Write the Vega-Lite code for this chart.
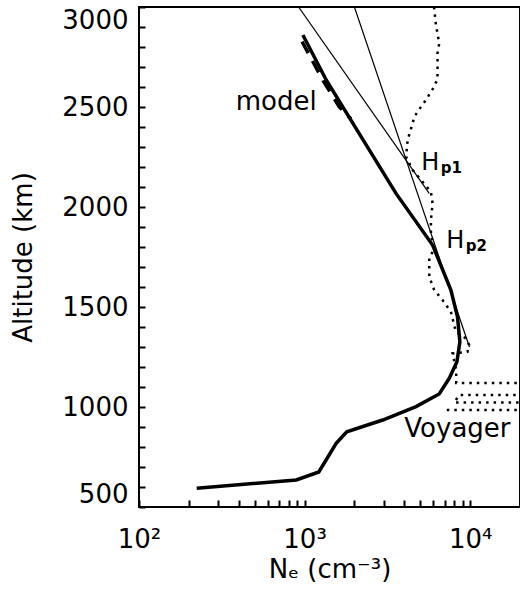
{
  "$schema": "https://vega.github.io/schema/vega-lite/v6.json",
  "width": 381,
  "height": 500,
  "autosize": "none",
  "padding": {"left": 139, "top": 7, "right": 0, "bottom": 88},
  "background": "white",
  "config": {
    "view": {"stroke": "black", "strokeWidth": 2}
  },
  "datasets": {
    "model": [
      {"ne": 223, "alt": 594}, {"ne": 891, "alt": 635}, {"ne": 1219, "alt": 675},
      {"ne": 1552, "alt": 818}, {"ne": 1798, "alt": 876}, {"ne": 2963, "alt": 935},
      {"ne": 4710, "alt": 1002}, {"ne": 6500, "alt": 1065}, {"ne": 7470, "alt": 1143},
      {"ne": 8320, "alt": 1226}, {"ne": 8670, "alt": 1326}, {"ne": 8385, "alt": 1451},
      {"ne": 7650, "alt": 1585}, {"ne": 5930, "alt": 1810}, {"ne": 3565, "alt": 2068},
      {"ne": 1701, "alt": 2501}, {"ne": 1351, "alt": 2635}, {"ne": 977, "alt": 2860}
    ],
    "model_alt": [
      {"ne": 966, "alt": 2827}, {"ne": 1287, "alt": 2635}, {"ne": 1620, "alt": 2501},
      {"ne": 1905, "alt": 2440}
    ],
    "fit1": [{"ne": 920, "alt": 3000}, {"ne": 5660, "alt": 2068}],
    "fit2": [{"ne": 2000, "alt": 3000}, {"ne": 9900, "alt": 1300}],
    "voyager": [
      {"ne": 6050, "alt": 3000}, {"ne": 6215, "alt": 2910}, {"ne": 6350, "alt": 2868},
      {"ne": 6506, "alt": 2818}, {"ne": 6350, "alt": 2768}, {"ne": 6350, "alt": 2685},
      {"ne": 6350, "alt": 2643}, {"ne": 6067, "alt": 2601}, {"ne": 5795, "alt": 2576},
      {"ne": 5408, "alt": 2535}, {"ne": 5047, "alt": 2501}, {"ne": 4600, "alt": 2451},
      {"ne": 4492, "alt": 2418}, {"ne": 4192, "alt": 2335}, {"ne": 4100, "alt": 2251},
      {"ne": 4492, "alt": 2185}, {"ne": 5160, "alt": 2126}, {"ne": 5795, "alt": 2076},
      {"ne": 5930, "alt": 2018}, {"ne": 5795, "alt": 1935}, {"ne": 5795, "alt": 1868},
      {"ne": 6067, "alt": 1785}, {"ne": 5663, "alt": 1751}, {"ne": 5663, "alt": 1651},
      {"ne": 6067, "alt": 1585}, {"ne": 6810, "alt": 1535}, {"ne": 7650, "alt": 1476},
      {"ne": 8200, "alt": 1376}, {"ne": 9420, "alt": 1343}, {"ne": 9860, "alt": 1310},
      {"ne": 9630, "alt": 1276}, {"ne": 7825, "alt": 1268}, {"ne": 8235, "alt": 1185},
      {"ne": 8235, "alt": 1120}, {"ne": 60000, "alt": 1120}, {"ne": 60000, "alt": 1060},
      {"ne": 8585, "alt": 1060}, {"ne": 8010, "alt": 1022}, {"ne": 60000, "alt": 1022},
      {"ne": 60000, "alt": 985}, {"ne": 6780, "alt": 985}
    ],
    "words": [
      {"text": "model", "ne": 384, "alt": 2485},
      {"text": "Voyager", "ne": 4003, "alt": 850}
    ],
    "heights": [
      {"text": "H", "ne": 5068, "alt": 2185},
      {"text": "H", "ne": 7168, "alt": 1795}
    ],
    "subscripts": [
      {"text": "p1", "ne": 6650, "alt": 2170},
      {"text": "p2", "ne": 9400, "alt": 1780}
    ]
  },
  "encoding": {
    "x": {
      "field": "ne", "type": "quantitative",
      "scale": {"type": "log", "domain": [100, 20000], "nice": false},
      "axis": {
        "orient": "bottom",
        "values": [100, 200, 300, 400, 500, 600, 700, 800, 900, 1000, 2000, 3000, 4000, 5000, 6000, 7000, 8000, 9000, 10000],
        "grid": false,
        "domain": false,
        "tickSize": -7,
        "tickColor": "black",
        "tickWidth": 2,
        "labelPadding": 26,
        "labelFlush": false,
        "labelOverlap": false,
        "labelFont": "DejaVu Sans",
        "labelFontSize": 26,
        "labelColor": "black",
        "labelExpr": "datum.value == 100 ? '10²' : datum.value == 1000 ? '10³' : datum.value == 10000 ? '10⁴' : ''",
        "title": "Nₑ (cm⁻³)",
        "titleFont": "DejaVu Sans",
        "titleFontSize": 26,
        "titleFontWeight": "normal",
        "titleColor": "black",
        "titlePadding": 4
      }
    },
    "y": {
      "field": "alt", "type": "quantitative",
      "scale": {"domain": [500, 3000], "nice": false, "zero": false},
      "axis": {
        "orient": "left",
        "tickCount": 25,
        "grid": false,
        "domain": false,
        "tickSize": -6,
        "tickColor": "black",
        "tickWidth": 2,
        "labelPadding": 17,
        "labelFlush": true,
        "labelOverlap": false,
        "labelFont": "DejaVu Sans",
        "labelFontSize": 26,
        "labelColor": "black",
        "format": "d",
        "labelExpr": "datum.value % 500 == 0 ? datum.label : ''",
        "title": "Altitude (km)",
        "titleFont": "DejaVu Sans",
        "titleFontSize": 26,
        "titleFontWeight": "normal",
        "titleColor": "black",
        "titlePadding": 25
      }
    }
  },
  "layer": [
    {
      "data": {"name": "model"},
      "mark": {"type": "line", "color": "black", "strokeWidth": 3.5, "clip": true},
      "encoding": {"order": {"value": null}}
    },
    {
      "data": {"name": "model_alt"},
      "mark": {"type": "line", "color": "black", "strokeWidth": 3.5, "strokeDash": [13, 9], "clip": true},
      "encoding": {"order": {"value": null}}
    },
    {
      "data": {"name": "fit1"},
      "mark": {"type": "line", "color": "black", "strokeWidth": 1.2, "clip": true},
      "encoding": {}
    },
    {
      "data": {"name": "fit2"},
      "mark": {"type": "line", "color": "black", "strokeWidth": 1.2, "clip": true},
      "encoding": {}
    },
    {
      "data": {"name": "voyager"},
      "mark": {"type": "line", "color": "black", "strokeWidth": 2.5, "strokeDash": [2.5, 5], "clip": true},
      "encoding": {"order": {"value": null}}
    },
    {
      "data": {"name": "words"},
      "mark": {"type": "text", "font": "DejaVu Sans", "fontSize": 26, "align": "left", "baseline": "alphabetic", "color": "black"},
      "encoding": {"text": {"field": "text"}}
    },
    {
      "data": {"name": "heights"},
      "mark": {"type": "text", "font": "DejaVu Sans", "fontSize": 24, "align": "left", "baseline": "alphabetic", "color": "black"},
      "encoding": {"text": {"field": "text"}}
    },
    {
      "data": {"name": "subscripts"},
      "mark": {"type": "text", "font": "DejaVu Sans", "fontSize": 15, "fontWeight": "bold", "align": "left", "baseline": "alphabetic", "color": "black"},
      "encoding": {"text": {"field": "text"}}
    }
  ]
}
